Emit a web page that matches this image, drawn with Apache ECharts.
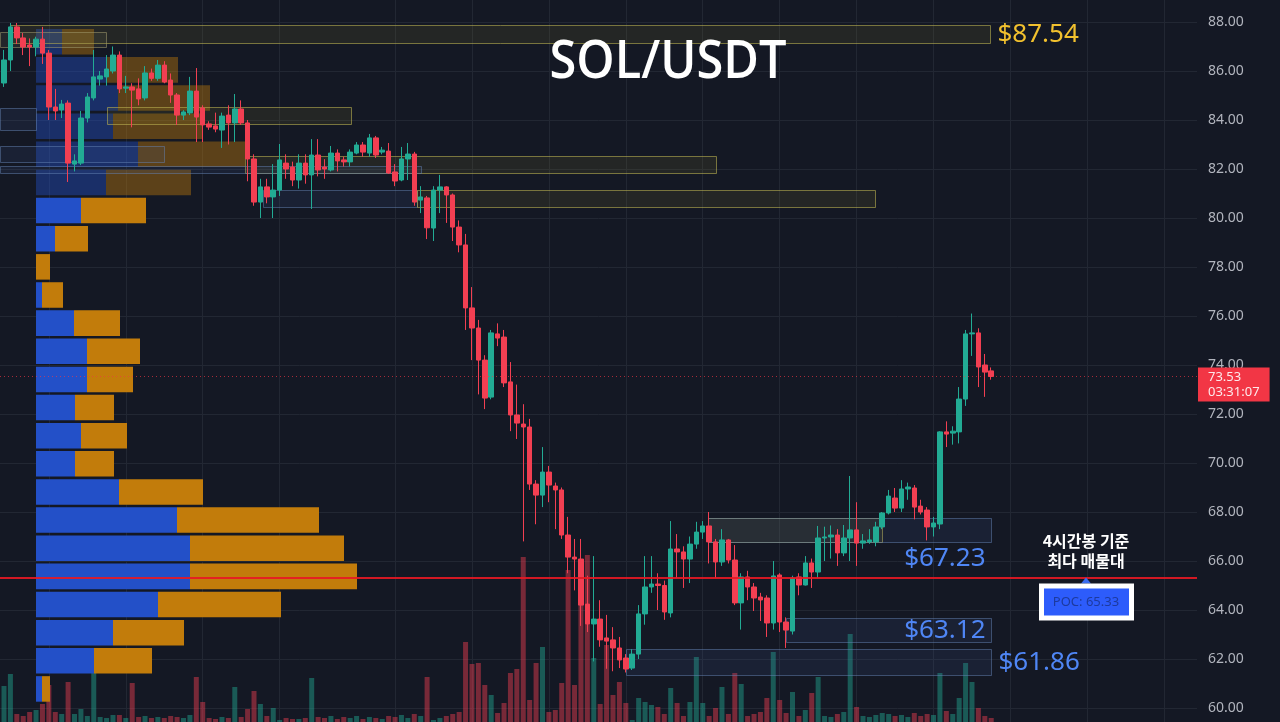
<!DOCTYPE html>
<html><head><meta charset="utf-8">
<script src="https://cdn.jsdelivr.net/npm/echarts@6/dist/echarts.min.js"></script>
<style>html,body{margin:0;padding:0;background:#141824;}#chart{width:1280px;height:722px;}</style>
</head><body><div id="chart"></div>
<script>
// ---------------- DATA ----------------
const SYMBOL = 'SOL/USDT';
const priceTicks = [60,62,64,66,68,70,72,74,76,78,80,82,84,86,88];
const opens = [
85.51,86.45,87.80,87.35,87.06,86.98,87.30,86.73,84.53,84.41,
84.69,82.20,82.24,84.08,84.90,85.67,85.76,86.00,86.65,85.30,
85.35,85.27,84.90,85.92,85.70,86.24,85.63,85.02,84.20,84.29,
85.18,84.49,83.84,83.76,83.59,84.20,83.88,84.45,83.88,82.41,
80.65,81.27,80.86,81.14,82.24,82.08,81.55,82.24,81.76,82.57,
82.08,81.96,82.65,82.37,82.29,82.65,82.98,82.65,83.27,82.69,
82.73,81.88,81.55,82.41,82.61,80.73,80.82,79.59,81.14,81.27,
80.94,79.63,78.90,76.33,75.51,74.20,72.69,75.27,75.14,73.31,
71.96,71.59,71.47,69.14,68.69,69.63,69.06,68.90,67.06,66.16,
66.08,64.24,63.43,63.63,62.86,62.78,62.45,62.04,61.63,62.20,
63.84,64.94,65.06,65.00,63.88,66.49,66.37,66.08,66.69,67.18,
67.43,66.78,65.96,66.86,66.04,64.29,65.35,64.94,64.53,64.49,
63.47,65.43,63.51,63.14,65.35,65.02,65.92,65.55,66.94,66.98,
67.06,66.33,66.94,67.27,66.73,66.78,66.78,67.39,67.96,68.57,
68.16,68.94,68.98,68.24,68.08,67.39,67.51,71.27,71.22,71.27,
72.61,75.27,75.31,74.00,73.76];
const closes = [
86.45,87.80,87.35,86.98,86.98,87.30,86.73,84.53,84.37,84.65,
82.24,82.33,84.08,84.94,85.76,85.80,86.08,86.65,85.27,85.35,
85.22,84.86,85.92,85.70,86.24,85.55,85.02,84.20,84.33,85.18,
84.12,83.80,83.71,83.63,84.16,83.88,84.45,83.88,82.41,80.65,
81.27,80.86,81.14,82.37,82.00,81.55,82.24,81.76,82.57,81.96,
82.00,82.65,82.33,82.29,82.69,82.98,82.69,83.27,82.57,82.77,
81.84,81.51,82.41,82.61,80.65,80.86,79.60,81.14,81.27,80.94,
79.63,78.90,76.33,75.51,74.20,72.65,75.31,75.10,73.27,71.96,
71.63,71.47,69.14,68.69,69.63,69.10,68.90,67.06,66.16,66.08,
64.20,63.43,63.63,62.78,62.73,62.45,61.96,61.59,62.20,63.84,
64.94,65.06,65.00,63.92,66.49,66.37,66.08,66.69,67.18,67.43,
66.78,65.96,66.86,66.04,64.29,65.35,64.94,64.49,64.41,63.47,
65.39,63.51,63.18,65.31,65.02,65.92,65.55,66.94,66.98,67.06,
66.33,66.94,67.27,66.73,66.82,66.86,67.39,67.96,68.65,68.16,
68.94,69.02,68.20,68.00,67.39,67.55,71.27,71.18,71.30,72.61,
75.27,75.31,73.92,73.71,73.53];
const highs = [
86.86,87.96,87.96,87.55,87.33,87.40,87.80,86.86,85.27,84.82,
84.80,82.60,84.37,85.10,86.86,86.00,86.65,87.00,86.80,85.80,
85.50,85.70,86.20,86.10,86.45,86.40,85.90,85.10,84.40,85.76,
86.12,84.60,83.95,84.30,84.30,84.60,85.06,84.80,84.00,82.60,
81.60,81.60,82.20,83.02,82.60,82.30,82.60,82.60,83.22,83.22,
82.40,82.94,82.80,82.50,82.80,83.10,83.10,83.43,83.35,82.90,
83.06,82.20,82.90,83.06,82.70,81.30,80.90,81.30,81.76,81.30,
81.00,79.90,79.35,77.18,75.84,74.40,75.43,75.70,75.43,74.12,
73.20,72.40,71.80,69.30,70.65,69.88,69.20,69.00,67.80,66.90,
66.90,65.40,66.20,64.40,63.80,63.30,62.90,62.20,62.40,64.20,
66.20,66.20,65.50,65.20,67.63,67.10,66.60,67.00,67.60,67.63,
68.00,66.90,67.30,66.90,66.65,65.50,65.60,65.10,64.70,64.60,
66.00,65.50,63.70,65.40,65.50,66.20,66.10,67.43,67.40,67.45,
67.30,67.47,69.47,68.40,67.10,67.30,67.60,68.00,68.90,68.98,
69.30,69.20,69.10,68.50,68.20,67.80,71.30,71.70,71.50,73.10,
75.43,76.10,75.50,74.45,73.90];
const lows = [
85.35,86.00,87.10,86.65,86.20,86.60,86.29,84.00,84.00,84.08,
81.47,81.90,82.16,83.90,84.80,85.40,85.40,85.90,85.10,85.10,
83.70,84.60,84.80,85.60,85.60,85.50,84.70,83.80,84.00,84.20,
83.10,83.10,83.60,83.50,82.86,83.00,83.10,83.80,81.50,80.50,
80.00,80.60,80.00,80.90,81.60,81.30,81.20,81.40,80.37,81.70,
81.60,81.90,81.90,82.10,82.10,82.60,82.50,82.50,82.45,82.60,
81.80,81.30,81.50,81.55,80.50,80.20,79.14,79.06,80.20,79.80,
79.06,78.60,75.43,74.20,72.80,72.20,72.60,74.77,73.10,71.30,
70.98,66.80,68.90,67.50,68.20,68.40,67.30,66.90,65.50,64.80,
63.35,63.10,61.90,62.50,61.60,61.50,61.63,61.45,61.55,62.00,
63.40,64.70,64.00,63.60,63.70,65.30,64.90,65.10,66.50,66.90,
65.90,65.30,65.80,65.90,64.20,63.20,64.40,63.96,63.55,62.90,
63.20,63.10,62.45,63.00,64.60,65.00,64.90,65.30,66.00,66.10,
65.80,66.20,66.00,65.80,66.50,66.70,66.60,67.30,67.90,68.00,
68.00,68.50,67.70,67.90,66.84,67.00,67.30,70.65,70.75,70.80,
72.33,74.37,73.10,72.70,73.40];
const volumes = [
36,48,8,6,10,12,18,37,10,8,
40,8,13,6,49,5,4,7,7,4,
39,5,6,4,5,4,6,5,4,7,
45,20,4,3,5,4,35,5,13,31,
18,6,14,2,4,3,3,4,44,5,
4,6,3,5,4,6,3,5,4,3,
6,5,7,4,8,6,45,2,4,6,
8,10,80,58,59,37,27,9,19,49,
53,165,22,59,75,10,12,39,152,37,
135,167,64,18,77,27,40,19,2,24,
20,17,15,8,34,19,6,20,65,19,
6,14,35,8,49,38,6,8,10,24,
70,22,9,30,6,12,29,45,6,5,
8,10,88,15,6,5,7,9,8,6,
7,5,9,6,8,7,49,11,8,24,
59,40,14,6,4];

// Volume profile (bins from bottom to top)
const profileLow = 60.2;
const profileStep = 1.1485;
const profileBuy   = [6,58,77,122,154,154,141,83,39,45,39,51,51,38,6,0,19,45,70,102,77,82,71,26];
const profileTotal = [14,116,148,245,321,308,283,167,78,91,78,97,104,84,27,14,52,110,155,209,166,174,142,58];
const valueAreaHigh = 80.87;
const pocPrice = 65.33;
const lastPrice = 73.53;
const countdown = '03:31:07';

// Zones (candle index range, price range)
const zoneStart = [1, -0.6, 16, -0.6, -0.6, 37.6, -0.6, 40.4, 64.4, 109.8, 109.8, 122, 97];
const zoneEnd   = [153.9, 16, 54, 5, 25, 111, 65, 64.4, 135.9, 137, 154, 154, 154];
const zoneHigh  = [87.88, 87.59, 84.53, 84.49, 82.94, 82.53, 82.12, 81.14, 81.14, 67.76, 67.76, 63.67, 62.41];
const zoneLow   = [87.14, 86.98, 83.84, 83.59, 82.29, 81.84, 81.84, 80.45, 80.45, 66.78, 66.78, 62.69, 61.35];
const zoneKind  = ['supply','neutral','supply','demand','demand','supply','demand','demand','supply','supply','demand','demand','demand'];
const zoneLabel = ['$87.54','','','','','','','','','','$67.23','$63.12','$61.86'];

const gridLineIdx = [7,19,31,43,61,73,85,97,109,121,133,145,157,169,181];
const annotationLines = ['4시간봉 기준', '최다 매물대'];

// ---------------- STYLE / LAYOUT ----------------
const BG = '#141824';
const GRID_LINE = '#222733';
const UP = '#22ab94', DOWN = '#f23f52';
const VOL_UP = 'rgba(34,171,148,0.45)', VOL_DOWN = 'rgba(242,63,82,0.45)';
const PROF_BLUE = '#2350c8', PROF_ORANGE = '#c27c0b';
const XMIN = -0.624, XMAX = 186.1;
const RIGHT = 83;
const labelPlacement = ['right','','','','','','','','','','below','inside','right'];
const ZONE_STYLE = {
  supply:  {fill:'rgba(150,140,50,0.13)', stroke:'rgba(185,175,80,0.6)', text:'#f2c12e'},
  neutral: {fill:'rgba(120,120,90,0.15)', stroke:'rgba(160,155,110,0.55)', text:'#f2c12e'},
  demand:  {fill:'rgba(70,100,160,0.13)', stroke:'rgba(100,130,180,0.5)', text:'#4f86f5'}
};

const candleData = opens.map((o,i)=>[i, o, closes[i], lows[i], highs[i]]);
const volData = volumes.map((v,i)=>({value:[i,v], itemStyle:{color: closes[i]>=opens[i]?VOL_UP:VOL_DOWN}}));
const profData = profileBuy.map((b,k)=>[profileLow+k*profileStep, profileLow+(k+1)*profileStep, b, profileTotal[k]]);
const zoneData = zoneStart.map((s,i)=>[s, zoneEnd[i], zoneLow[i], zoneHigh[i]]);

function renderProfile(params, api){
  const lo = api.value(0), hi = api.value(1), buy = api.value(2), tot = api.value(3);
  const a = api.coord([0, hi]); const b = api.coord([buy, lo]); const c = api.coord([tot, lo]);
  const y = a[1] + 1.2, h = (b[1] - a[1]) - 2.6;
  const op = lo >= valueAreaHigh - 0.01 ? 0.42 : 1;
  return {type:'group', children:[
    {type:'rect', shape:{x:a[0], y:y, width:b[0]-a[0], height:h}, style:{fill:PROF_BLUE, opacity:op}},
    {type:'rect', shape:{x:b[0], y:y, width:c[0]-b[0], height:h}, style:{fill:PROF_ORANGE, opacity:op}}
  ]};
}
function renderZone(params, api){
  const i = params.dataIndex;
  const a = api.coord([api.value(0), api.value(3)]);
  const b = api.coord([api.value(1), api.value(2)]);
  const x = Math.round(a[0])+0.5, y = Math.round(a[1])+0.5;
  const w = Math.round(b[0]-a[0]), h = Math.round(b[1]-a[1]);
  const st = ZONE_STYLE[zoneKind[i]];
  const ch = [{type:'rect', shape:{x,y,width:w,height:h}, style:{fill:st.fill, stroke:st.stroke, lineWidth:1}}];
  if (zoneLabel[i]) {
    let tx, ty, al;
    const pl = labelPlacement[i];
    if (pl === 'right') { tx = x + w + 7; ty = y + h/2; al = 'left'; }
    else if (pl === 'inside') { tx = x + w - 6; ty = y + h/2; al = 'right'; }
    else { tx = x + w - 6; ty = y + h + 16; al = 'right'; }
    ch.push({type:'text', x:tx, y:ty, style:{text:zoneLabel[i], fill:st.text, fontSize:26, fontFamily:'"Noto Sans", "Open Sans", sans-serif', align:al, verticalAlign:'middle'}});
  }
  return {type:'group', children:ch};
}

const chart = echarts.init(document.getElementById('chart'), null, {renderer:'canvas'});
chart.setOption({
  backgroundColor: BG,
  animation: false,
  grid: [
    {left:0, right:RIGHT, top:22, bottom:14, outerBoundsMode:'none'},
    {left:36, right:RIGHT, top:22, bottom:14, outerBoundsMode:'none'},
    {left:0, right:RIGHT, top:0, bottom:0, outerBoundsMode:'none'}
  ],
  xAxis: [
    {type:'value', gridIndex:0, min:XMIN, max:XMAX, show:false},
    {type:'value', gridIndex:1, min:0, max:1161, show:false},
    {type:'value', gridIndex:2, min:XMIN, max:XMAX, show:true,
     axisLine:{show:false}, axisLabel:{show:false}, axisTick:{show:false, customValues:gridLineIdx},
     splitLine:{show:true, lineStyle:{color:GRID_LINE, width:1}}}
  ],
  yAxis: [
    {type:'value', gridIndex:0, position:'right', min:60, max:88, interval:2,
     axisLine:{show:false}, axisTick:{show:false},
     axisLabel:{show:true, margin:11, color:'#b2b5be', fontSize:14, fontFamily:'"Noto Sans", sans-serif',
       customValues: priceTicks, formatter:v=>v.toFixed(2)},
     splitLine:{show:true, lineStyle:{color:GRID_LINE, width:1}}},
    {type:'value', gridIndex:1, min:60, max:88, show:false},
    {type:'value', gridIndex:2, min:0, max:722, show:false}
  ],
  series: [
    {type:'bar', name:'volume', xAxisIndex:2, yAxisIndex:2, barWidth:5, data:volData, z:1, silent:true},
    {type:'custom', name:'profile', xAxisIndex:1, yAxisIndex:1, renderItem:renderProfile, data:profData,
     encode:{x:[2,3], y:[0,1]}, z:2, silent:true},
    {type:'custom', name:'zones', xAxisIndex:0, yAxisIndex:0, renderItem:renderZone, data:zoneData,
     encode:{x:[0,1], y:[2,3]}, z:3, silent:true, clip:false},
    {type:'candlestick', name:SYMBOL, xAxisIndex:0, yAxisIndex:0, data:candleData,
     encode:{x:0, y:[1,2,3,4]}, barWidth:5, z:4,
     itemStyle:{color:UP, color0:DOWN, borderColor:UP, borderColor0:DOWN, borderWidth:1},
     markLine:{silent:true, symbol:['none','none'], animation:false,
       data:[
         {yAxis:pocPrice, lineStyle:{color:'rgba(232,24,36,0.9)', width:2, type:'solid'}, label:{show:false}},
         {yAxis:lastPrice, lineStyle:{color:'rgba(242,54,69,0.65)', width:1, type:[1,3]},
          label:{show:true, position:'end', distance:1, offset:[0,8], formatter:lastPrice.toFixed(2)+'\n'+countdown,
            backgroundColor:'#f23645', color:'#fde9eb', fontSize:13, lineHeight:15,
            fontFamily:'"Noto Sans", sans-serif', padding:[2,10,2,10], align:'left'}}
       ]}}
  ]
});

const pocY = chart.convertToPixel({yAxisIndex:0}, pocPrice);
const AX = 1086;
chart.setOption({graphic:[
  {type:'text', x:668, y:63, scaleX:0.92, z:100,
   style:{text:SYMBOL, fill:'#ffffff', fontSize:53, fontWeight:600, fontFamily:'"Open Sans", "Noto Sans", sans-serif', align:'center', verticalAlign:'middle'}},
  {type:'text', x:AX, y:pocY-26.5, z:100,
   style:{text:annotationLines.join('\n'), fill:'#ffffff', fontSize:16, lineHeight:20, fontWeight:'bold',
     fontFamily:'"Noto Sans CJK KR", sans-serif', align:'center', verticalAlign:'middle'}},
  {type:'polygon', z:100, shape:{points:[[AX-5,pocY+6],[AX+5,pocY+6],[AX,pocY]]}, style:{fill:'#3a6cf0'}},
  {type:'rect', z:100, shape:{x:AX-47, y:pocY+6, width:95, height:37}, style:{fill:'#ffffff'}},
  {type:'rect', z:101, shape:{x:AX-42, y:pocY+11, width:85, height:27}, style:{fill:'#2d5cfb'}},
  {type:'text', x:AX, y:pocY+24.5, z:102,
   style:{text:'POC: '+pocPrice.toFixed(2), fill:'#1d3a9e', fontSize:13, fontFamily:'"Noto Sans", sans-serif', align:'center', verticalAlign:'middle'}}
]});
</script></body></html>
